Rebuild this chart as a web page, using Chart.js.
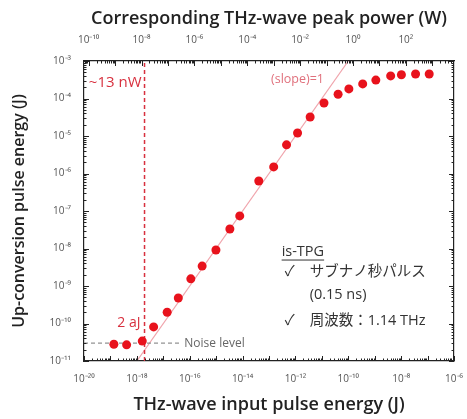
<!DOCTYPE html>
<html>
<head>
<meta charset="utf-8">
<script src="https://cdn.jsdelivr.net/npm/chart.js@4/dist/chart.umd.min.js"></script>
<style>
  html, body { margin: 0; padding: 0; background: #fff; }
  #wrap { width: 467px; height: 419px; }
</style>
</head>
<body>
<div id="wrap"><canvas id="chart" width="467" height="419"></canvas></div>
<script>
// measured points: THz input energy (J) vs up-conversion energy (J)
const inputEnergy = [1.35e-19, 4.1e-19, 1.6e-18, 4.3e-18, 1.4e-17, 3.7e-17, 1.1e-16, 2.95e-16,
    9.8e-16, 3.3e-15, 7.8e-15, 4.1e-14, 1.5e-13, 4.6e-13, 1.2e-12, 3.6e-12, 1.2e-11, 4.1e-11,
    1.05e-10, 3.5e-10, 1.1e-9, 4.0e-9, 1.02e-8, 3.5e-8, 1.15e-7];
const outputEnergy = [2.8e-11, 2.7e-11, 3.4e-11, 8.1e-11, 2.0e-10, 4.8e-10, 1.55e-9, 3.4e-9,
    9.1e-9, 3.3e-8, 7.4e-8, 6.3e-7, 1.5e-6, 5.8e-6, 1.2e-5, 3.2e-5, 7.6e-5, 1.3e-4,
    1.8e-4, 2.45e-4, 3.1e-4, 4.0e-4, 4.3e-4, 4.5e-4, 4.5e-4];

// guide lines
const slopeX = [1e-18, 1e-10];
const slopeY = [1e-11, 1e-3];
const thresholdX = [1.95e-18, 1.95e-18];
const thresholdY = [1e-11, 1e-3];
const noiseX = [1e-20, 4.8e-17];
const noiseY = [3e-11, 3e-11];

// axes
const pulseWidth = 1.5e-10; // s, peak power = energy / pulse width
const xTickExps = [-20, -19, -18, -17, -16, -15, -14, -13, -12, -11, -10, -9, -8, -7, -6];
const yTickExps = [-11, -10, -9, -8, -7, -6, -5, -4, -3];
const topTickExps = [-10, -9, -8, -7, -6, -5, -4, -3, -2, -1, 0, 1, 2, 3];

const sup = { '-': '⁻', '0': '⁰', '1': '¹', '2': '²', '3': '³', '4': '⁴', '5': '⁵', '6': '⁶', '7': '⁷', '8': '⁸', '9': '⁹' };
function powLabel(v) {
    const e = Math.round(Math.log10(v));
    return '10' + String(e).split('').map(c => sup[c]).join('');
}
function evenOnly(v) {
    const e = Math.round(Math.log10(v));
    return e % 2 === 0 ? powLabel(v) : '';
}
const toXY = (xs, ys) => xs.map((x, i) => ({ x: x, y: ys[i] }));

const FONT = "'Open Sans', 'Noto Sans CJK JP', sans-serif";
const tickFont = { family: FONT, size: 10 };

// inward ticks on all four sides plus text notes
const decorPlugin = {
    id: 'decor',
    afterDatasetsDraw(chart) {
        const ctx = chart.ctx;
        const a = chart.chartArea;
        const sx = chart.scales.x, sy = chart.scales.y, st = chart.scales.x2;
        ctx.save();
        ctx.strokeStyle = '#222';
        ctx.lineWidth = 1;
        const minors = [2, 3, 4, 5, 6, 7, 8, 9];
        function hTicks(scale, exps, yEdge, dir) {
            exps.forEach(e => {
                const base = Math.pow(10, e);
                [[base, 5]].concat(minors.map(m => [base * m, 2.5])).forEach(([v, len]) => {
                    if (v < scale.min * 0.999 || v > scale.max * 1.001) return;
                    const p = Math.round(scale.getPixelForValue(v)) + 0.5;
                    ctx.beginPath(); ctx.moveTo(p, yEdge); ctx.lineTo(p, yEdge + dir * len); ctx.stroke();
                });
            });
        }
        function vTicks(scale, exps, xEdge, dir) {
            exps.forEach(e => {
                const base = Math.pow(10, e);
                [[base, 5]].concat(minors.map(m => [base * m, 2.5])).forEach(([v, len]) => {
                    if (v < scale.min * 0.999 || v > scale.max * 1.001) return;
                    const p = Math.round(scale.getPixelForValue(v)) + 0.5;
                    ctx.beginPath(); ctx.moveTo(xEdge, p); ctx.lineTo(xEdge + dir * len, p); ctx.stroke();
                });
            });
        }
        hTicks(sx, xTickExps, a.bottom, -1);
        hTicks(st, topTickExps.concat([-11]), a.top, 1);
        vTicks(sy, yTickExps, a.left, 1);
        vTicks(sy, yTickExps, a.right, -1);

        const px = v => sx.getPixelForValue(v);
        const py = v => sy.getPixelForValue(v);
        ctx.textBaseline = 'middle';

        ctx.fillStyle = '#d8303e';
        ctx.font = '15px ' + FONT;
        ctx.textAlign = 'right';
        ctx.fillText('~13 nW', px(thresholdX[0]) - 3, py(2.6e-4));
        ctx.font = '14px ' + FONT;
        ctx.fillText('2 aJ', px(thresholdX[0]) - 4, py(1.05e-10));

        ctx.fillStyle = '#e0707c';
        ctx.font = '12.5px ' + FONT;
        ctx.fillText('(slope)=1', px(1.2e-11), py(3.2e-4));

        ctx.fillStyle = '#666';
        ctx.textAlign = 'left';
        ctx.font = '12px ' + FONT;
        ctx.fillText('Noise level', px(noiseX[1]) + 3, py(noiseY[0]));

        // inset notes
        ctx.fillStyle = '#333';
        ctx.font = '14.5px ' + FONT;
        const ix = px(3e-13), iy = py(8.3e-9);
        ctx.fillText('is-TPG', ix, iy);
        const w = ctx.measureText('is-TPG').width;
        ctx.strokeStyle = '#333';
        ctx.beginPath(); ctx.moveTo(ix, iy + 8.5); ctx.lineTo(ix + w, iy + 8.5); ctx.stroke();
        ctx.fillText('✓', ix + 3, iy + 20);
        ctx.fillText('サブナノ秒パルス', ix + 28, iy + 20);
        ctx.fillText('(0.15 ns)', ix + 28, iy + 43);
        ctx.fillText('✓', ix + 3, iy + 69);
        ctx.fillText('周波数：1.14 THz', ix + 28, iy + 69);
        ctx.restore();
    }
};

new Chart(document.getElementById('chart'), {
    type: 'scatter',
    data: {
        datasets: [
            {
                label: 'data',
                data: toXY(inputEnergy, outputEnergy),
                backgroundColor: '#e8121c',
                borderWidth: 0,
                pointRadius: 4.5,
                order: 0
            },
            {
                label: 'slope',
                data: toXY(slopeX, slopeY),
                showLine: true,
                borderColor: '#f0a4ac',
                borderWidth: 1.2,
                pointRadius: 0,
                order: 2
            },
            {
                label: 'threshold',
                data: toXY(thresholdX, thresholdY),
                showLine: true,
                borderColor: '#d8303e',
                borderWidth: 1.5,
                borderDash: [4, 3],
                pointRadius: 0,
                order: 1
            },
            {
                label: 'noise',
                data: toXY(noiseX, noiseY),
                showLine: true,
                borderColor: '#777',
                borderWidth: 1,
                borderDash: [4, 3],
                pointRadius: 0,
                order: 1
            }
        ]
    },
    options: {
        responsive: false,
        animation: false,
        devicePixelRatio: 1,
        layout: { padding: 0 },
        plugins: { legend: { display: false }, tooltip: { enabled: false } },
        scales: {
            x: {
                type: 'logarithmic',
                position: 'bottom',
                min: 1e-20,
                max: 1e-6,
                grid: { display: false },
                border: { display: true, color: '#222', width: 1.2 },
                afterBuildTicks: s => { s.ticks = xTickExps.map(e => ({ value: Math.pow(10, e) })); },
                afterFit: s => { s.height = 58; },
                ticks: { callback: evenOnly, autoSkip: false, maxRotation: 0, color: '#555', font: tickFont, padding: 4 },
                title: {
                    display: true,
                    text: 'THz-wave input pulse energy (J)',
                    color: '#222',
                    font: { family: FONT, size: 18, weight: '600' },
                    padding: { top: 0, bottom: 3 },
                    align: 'center'
                }
            },
            x2: {
                type: 'logarithmic',
                position: 'top',
                min: 1e-20 / pulseWidth,
                max: 1e-6 / pulseWidth,
                grid: { display: false },
                border: { display: true, color: '#222', width: 1.2 },
                afterBuildTicks: s => { s.ticks = topTickExps.map(e => ({ value: Math.pow(10, e) })); },
                afterFit: s => { s.height = 61; },
                ticks: { callback: evenOnly, autoSkip: false, maxRotation: 0, color: '#555', font: tickFont, padding: 7 },
                title: {
                    display: true,
                    text: 'Corresponding THz-wave peak power (W)',
                    color: '#222',
                    font: { family: FONT, size: 18, weight: '600' },
                    padding: { top: 8, bottom: 4 }
                }
            },
            y: {
                type: 'logarithmic',
                position: 'left',
                min: 1e-11,
                max: 1e-3,
                grid: { display: false },
                border: { display: true, color: '#222', width: 1.2 },
                afterBuildTicks: s => { s.ticks = yTickExps.map(e => ({ value: Math.pow(10, e) })); },
                afterFit: s => { s.width = 84; },
                ticks: { callback: powLabel, autoSkip: false, color: '#555', font: tickFont, padding: 5 },
                title: {
                    display: true,
                    text: 'Up-conversion pulse energy (J)',
                    color: '#222',
                    font: { family: FONT, size: 16, weight: '600' },
                    padding: { top: 10, bottom: 0 }
                }
            },
            y2: {
                type: 'logarithmic',
                position: 'right',
                min: 1e-11,
                max: 1e-3,
                grid: { display: false },
                border: { display: true, color: '#222', width: 1.2 },
                ticks: { display: false },
                afterFit: s => { s.width = 10; }
            }
        }
    },
    plugins: [decorPlugin]
});
</script>
</body>
</html>
